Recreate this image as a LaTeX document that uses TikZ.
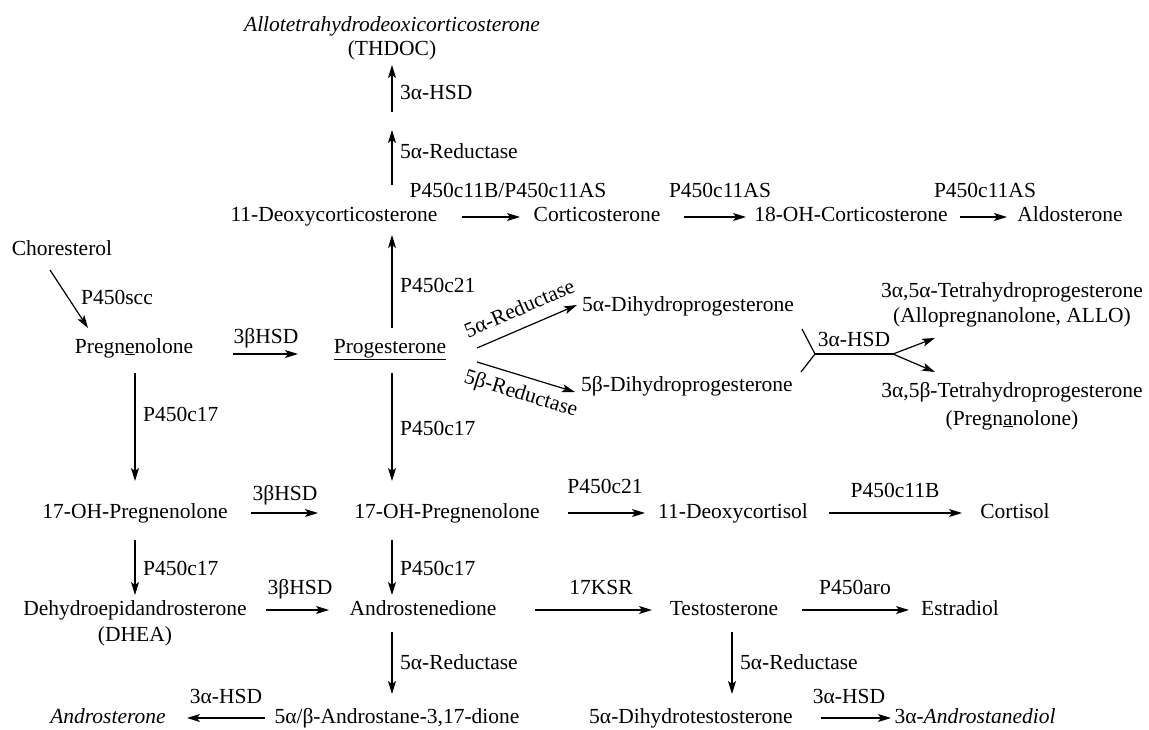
\documentclass[tikz,border=0pt]{standalone}
\usepackage{fontspec}
\setmainfont{Liberation Serif}
\usetikzlibrary{arrows.meta}
\tikzset{
  comp/.style={inner sep=0pt, font=\fontsize{21.5}{24}\selectfont, text height=15pt, text depth=5pt},
  enz/.style={inner sep=0pt, font=\fontsize{21.5}{24}\selectfont, text height=15pt, text depth=5pt},
  arr/.style={-{Stealth[length=13pt,width=8pt,inset=3pt]}, line width=1.2pt},
  ln/.style={line width=1.2pt}
}
\begin{document}
\begin{tikzpicture}[x=1pt,y=-1pt]
\useasboundingbox (0,0) rectangle (1149,730);
% compounds
\node[comp] (thdocA) at (392,27) {\textit{Allotetrahydrodeoxicorticosterone}};
\node[comp] (thdocB) at (392,51) {(THDOC)};
\coordinate (r5a) at (392,121);
\node[comp] (doc) at (334,217) {11-Deoxycorticosterone};
\node[comp] (cort) at (597,217) {Corticosterone};
\node[comp] (ohc) at (851,217) {18-OH-Corticosterone};
\node[comp] (aldo) at (1070,217) {Aldosterone};
\node[comp] (chol) at (62,251) {Choresterol};
\node[comp] (preg) at (134,348) {Pregn\underline{e}nolone};
\node[comp] (prog) at (390,348) {\underline{Progesterone}};
\node[comp] (dhp5a) at (688,307) {5α-Dihydroprogesterone};
\node[comp] (dhp5b) at (687,386) {5β-Dihydroprogesterone};
\node[comp] (thp5a) at (1012,293) {3α,5α-Tetrahydroprogesterone};
\node[comp] (allo) at (1012,318) {(Allopregnanolone, ALLO)};
\node[comp] (thp5b) at (1012,392) {3α,5β-Tetrahydroprogesterone};
\node[comp] (pregna) at (1012,420) {(Pregn\underline{a}nolone)};
\node[comp] (oh17a) at (135,513) {17-OH-Pregnenolone};
\node[comp] (oh17b) at (447,513) {17-OH-Pregnenolone};
\node[comp] (dcortisol) at (733,513) {11-Deoxycortisol};
\node[comp] (cortisol) at (1015,513) {Cortisol};
\node[comp] (dhea) at (135,610) {Dehydroepidandrosterone};
\node[comp] (dheab) at (135,636) {(DHEA)};
\node[comp] (andro) at (423,610) {Androstenedione};
\node[comp] (testo) at (724,610) {Testosterone};
\node[comp] (estra) at (960,610) {Estradiol};
\node[comp] (androst) at (108,718) {\textit{Androsterone}};
\node[comp] (adione) at (397,718) {5α/β-Androstane-3,17-dione};
\node[comp] (dht) at (691,718) {5α-Dihydrotestosterone};
\node[comp] (adiol) at (975,718) {3α-\textit{Androstanediol}};
% top column
\draw[arr] ([shift={(58,-32)}]doc.center) -- ([shift={(0,9)}]r5a);
\draw[arr] ([shift={(0,-9)}]r5a) -- ([shift={(0,14)}]thdocB.center);
\node[enz, anchor=west] (e1) at (400,154) {5α-Reductase};
\node[enz, anchor=west] (e2) at (400,95) {3α-HSD};
% row A
\draw[arr] ([shift={(128,0)}]doc.center) -- ([shift={(-77,0)}]cort.center);
\node[enz] (e3) at (508,193) {P450c11B/P450c11AS};
\draw[arr] ([shift={(87,0)}]cort.center) -- ([shift={(-105,0)}]ohc.center);
\node[enz] (e4) at (720,193) {P450c11AS};
\draw[arr] ([shift={(109,0)}]ohc.center) -- ([shift={(-63,0)}]aldo.center);
\node[enz] (e5) at (985,193) {P450c11AS};
% cholesterol
\draw[ln, -{Stealth[length=13pt,width=8pt,inset=3pt]}] ([shift={(-12,19)}]chol.center) -- ([shift={(-46,-20)}]preg.center);
\node[enz] (e6) at (117,299) {P450scc};
% pregnenolone -> progesterone
\draw[arr] ([shift={(99,6)}]preg.center) -- ([shift={(-92,6)}]prog.center);
\node[enz] (e7) at (266,338) {3βHSD};
\draw[arr] ([shift={(2,-20)}]prog.center) -- ([shift={(58,18)}]doc.center);
\node[enz, anchor=west] (e8) at (400,287) {P450c21};
% reductases
\draw[arr] ([shift={(87,0)}]prog.center) -- node[enz, midway, above=7pt, sloped] (e9) {5α-Reductase} ([shift={(-111,-2)}]dhp5a.center);
\draw[arr] ([shift={(87,14)}]prog.center) -- node[enz, midway, below=8pt, sloped] (e10) {5β-Reductase} ([shift={(-112,6)}]dhp5b.center);
% fork
\coordinate (fa) at (802,329);
\coordinate (fb) at (801,372);
\coordinate (fj) at (815,354);
\coordinate (fs) at (893,354);
\coordinate (ta) at (935,338);
\coordinate (tb) at (935,372);
\draw[ln] (fa) -- (fj) -- (fb);
\draw[ln] (fj) -- node[enz, midway, above=2pt] (e11) {3α-HSD} (fs);
\draw[arr] (fs) -- (ta);
\draw[arr] (fs) -- (tb);
% P450c17 downwards
\draw[arr] ([shift={(1,25)}]preg.center) -- ([shift={(0,-32)}]oh17a.center);
\node[enz, anchor=west] (e12) at (143,416) {P450c17};
\draw[arr] ([shift={(2,25)}]prog.center) -- ([shift={(-55,-32)}]oh17b.center);
\node[enz, anchor=west] (e13) at (400,430) {P450c17};
% row 17
\draw[arr] ([shift={(116,0)}]oh17a.center) -- ([shift={(-129,0)}]oh17b.center);
\node[enz] (e14) at (285,495) {3βHSD};
\draw[arr] ([shift={(121,0)}]oh17b.center) -- ([shift={(-88,0)}]dcortisol.center);
\node[enz] (e15) at (605,488) {P450c21};
\draw[arr] ([shift={(96,0)}]dcortisol.center) -- ([shift={(-53,0)}]cortisol.center);
\node[enz] (e16) at (895,492) {P450c11B};
% down to row D
\draw[arr] ([shift={(0,27)}]oh17a.center) -- ([shift={(0,-15)}]dhea.center);
\node[enz, anchor=west] (e17) at (143,570) {P450c17};
\draw[arr] ([shift={(-55,27)}]oh17b.center) -- ([shift={(-31,-15)}]andro.center);
\node[enz, anchor=west] (e18) at (400,570) {P450c17};
% row D
\draw[arr] ([shift={(131,0)}]dhea.center) -- ([shift={(-94,0)}]andro.center);
\node[enz] (e19) at (300,589) {3βHSD};
\draw[arr] ([shift={(112,0)}]andro.center) -- ([shift={(-72,0)}]testo.center);
\node[enz] (e20) at (601,589) {17KSR};
\draw[arr] ([shift={(78,0)}]testo.center) -- ([shift={(-51,0)}]estra.center);
\node[enz] (e21) at (855,589) {P450aro};
% down to bottom
\draw[arr] ([shift={(-31,22)}]andro.center) -- ([shift={(-5,-24)}]adione.center);
\node[enz, anchor=west] (e22) at (400,664) {5α-Reductase};
\draw[arr] ([shift={(8,22)}]testo.center) -- ([shift={(41,-24)}]dht.center);
\node[enz, anchor=west] (e23) at (740,664) {5α-Reductase};
% bottom row
\draw[arr] ([shift={(-132,0)}]adione.center) -- ([shift={(79,0)}]androst.center);
\node[enz] (e24) at (226,698) {3α-HSD};
\draw[arr] ([shift={(130,0)}]dht.center) -- ([shift={(-84,0)}]adiol.center);
\node[enz] (e25) at (849,698) {3α-HSD};
\end{tikzpicture}
\end{document}
